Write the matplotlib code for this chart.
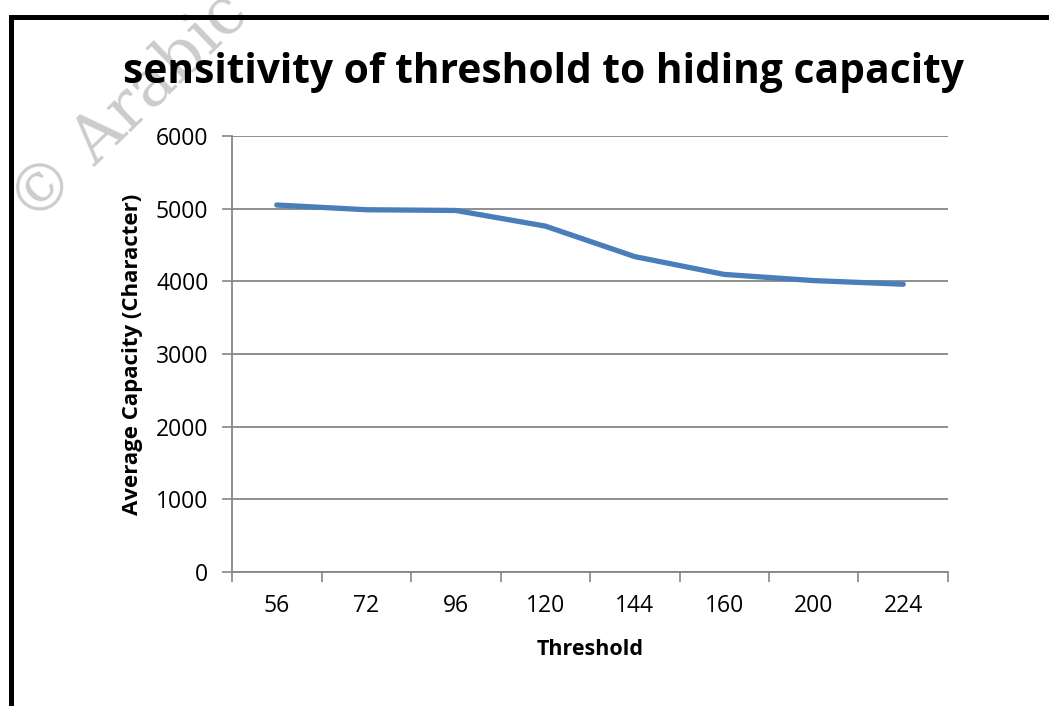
import matplotlib.pyplot as plt
import numpy as np
from matplotlib.lines import Line2D

thresholds = ["56", "72", "96", "120", "144", "160", "200", "224"]
avg_capacity = [5050, 4985, 4975, 4760, 4340, 4095, 4010, 3960]
y_ticks = [0, 1000, 2000, 3000, 4000, 5000, 6000]

FONT = "Open Sans"
GRID = "#868686"
LINE = "#4a7ebb"


def main() -> None:
    fig = plt.figure(figsize=(10.49, 7.06), dpi=100)
    ax = fig.add_axes([0.2212, 0.1898, 0.6825, 0.6176])

    # faint watermark in the top-left corner
    fig.text(0.0315, 0.680, "\u00a9 Arabic", fontsize=47, color="#cccccc",
             family="DejaVu Serif", rotation=44, rotation_mode="anchor",
             ha="left", va="baseline", zorder=0)

    x = np.arange(len(thresholds))
    ax.plot(x, avg_capacity, color=LINE, linewidth=3.8, solid_capstyle="round",
            solid_joinstyle="round", zorder=3)

    ax.set_xlim(-0.5, len(thresholds) - 0.5)
    ax.set_ylim(0, 6000)
    ax.set_yticks(y_ticks)
    ax.set_yticklabels([str(v) for v in y_ticks], family=FONT, fontsize=16.5)
    ax.set_xticks(x)
    ax.set_xticklabels(thresholds, family=FONT, fontsize=16.5)
    ax.set_xticks(np.arange(len(thresholds) + 1) - 0.5, minor=True)
    ax.tick_params(axis="x", which="major", length=0, pad=16)
    ax.tick_params(axis="x", which="minor", length=7, width=1.2, color=GRID)
    ax.tick_params(axis="y", length=7, width=1.2, color=GRID, pad=10)

    ax.grid(axis="y", color=GRID, linewidth=1.3)
    ax.set_axisbelow(True)
    for side in ("top", "right"):
        ax.spines[side].set_visible(False)
    for side in ("left", "bottom"):
        ax.spines[side].set_color(GRID)
        ax.spines[side].set_linewidth(1.3)

    ax.set_xlabel("Threshold", family=FONT, fontsize=15.5, fontweight="bold", labelpad=15)
    ax.set_ylabel("Average Capacity (Character)", family=FONT, fontsize=16,
                  fontweight="bold", labelpad=9)

    fig.text(0.518, 0.897, "sensitivity of threshold to hiding capacity", family=FONT,
             fontsize=29.3, fontweight="bold", ha="center", va="center")

    # black frame on the left and top edges
    fig.add_artist(Line2D([10.5 / 1049, 10.5 / 1049], [0, 1 - 16.5 / 706], color="black",
                          linewidth=3.6, transform=fig.transFigure, solid_capstyle="projecting"))
    fig.add_artist(Line2D([10.5 / 1049, 1.0], [1 - 16.5 / 706, 1 - 16.5 / 706], color="black",
                          linewidth=3.6, transform=fig.transFigure, solid_capstyle="projecting"))

    fig.savefig("out.png", dpi=100)
    plt.close(fig)


if __name__ == "__main__":
    main()
